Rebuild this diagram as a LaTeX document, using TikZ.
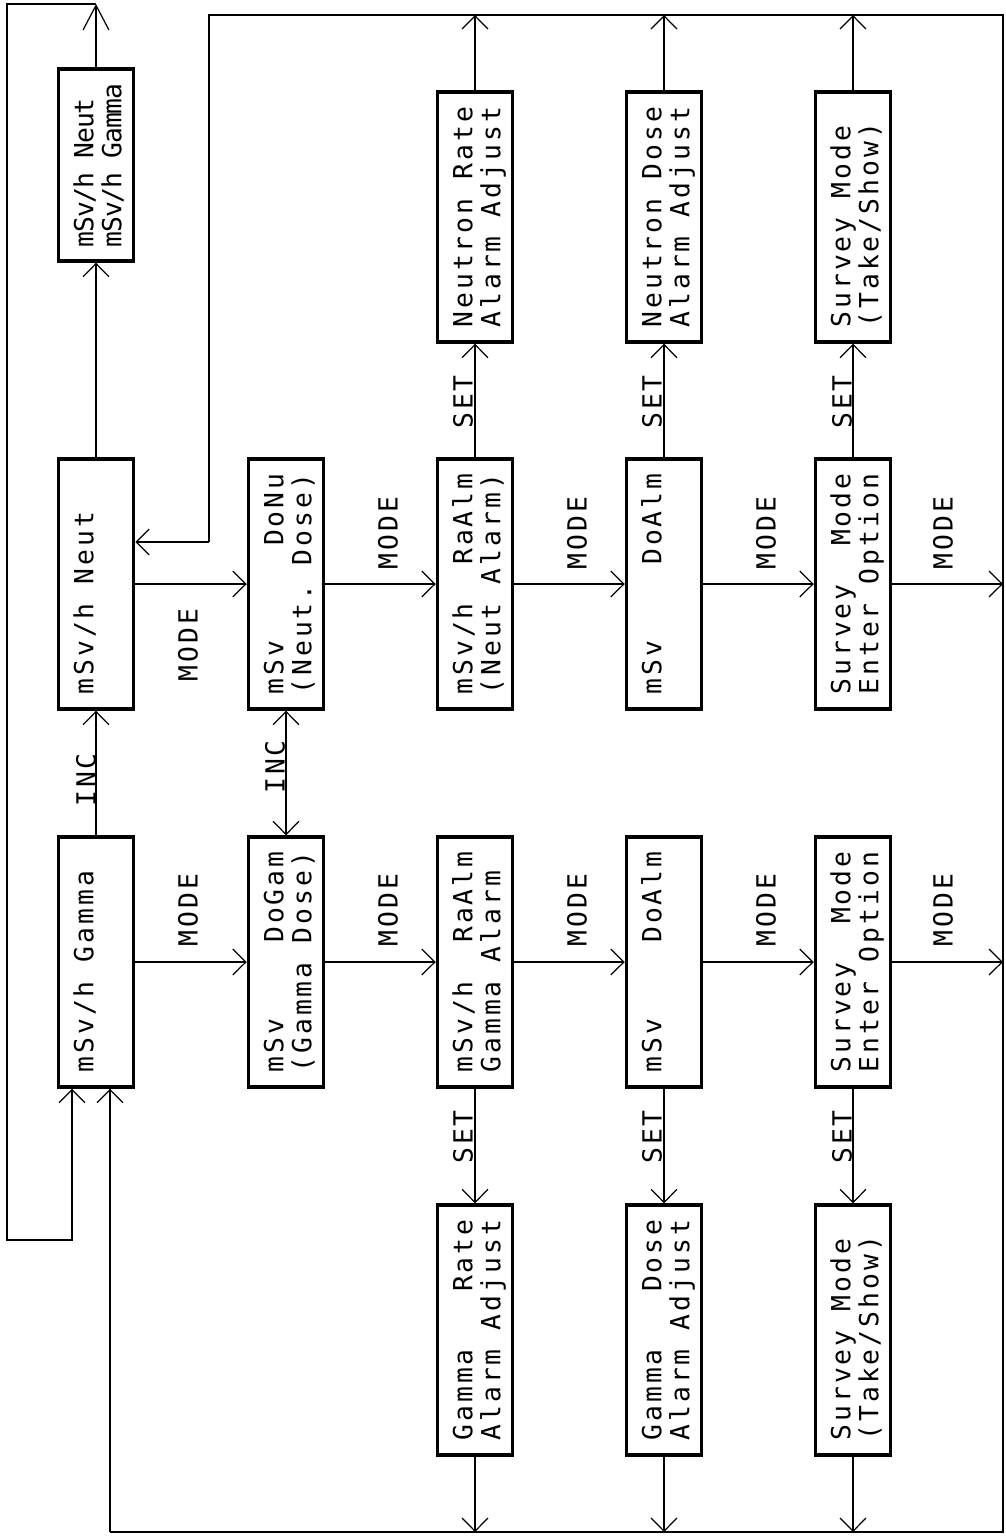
\documentclass[tikz,border=0pt]{standalone}
\usepackage{fontspec}
\usepackage{graphicx}
\usetikzlibrary{arrows.meta,calc}
\newfontfamily\pf{DejaVu Sans Mono}[LetterSpace=11.6]
\newfontfamily\pfn{DejaVu Sans Mono}[LetterSpace=-4.7]
\newcommand{\bt}[2]{\rotatebox{90}{\parbox{126pt}{\raggedright\rule{0pt}{17pt}#1\\#2\rule[-4pt]{0pt}{4pt}}}}
\newcommand{\btn}[2]{\rotatebox{90}{\parbox{93.5pt}{\raggedright\rule{0pt}{17pt}#1\\#2\rule[-4pt]{0pt}{4pt}}}}
\begin{document}
\begin{tikzpicture}[x=0.02cm,y=-0.02cm,
  box/.style={draw, line width=2pt, minimum width=1.5cm, minimum height=5cm, inner sep=0pt,
    font=\pf\fontsize{15pt}{15.9pt}\selectfont},
  topbox/.style={box, minimum height=3.84cm, font=\pfn\fontsize{15pt}{15.9pt}\selectfont},
  lbl/.style={rotate=90, inner sep=0pt, font=\pf\fontsize{15pt}{15.9pt}\selectfont},
  conn/.style={line width=0.7pt},
  bigtip/.style={-{Straight Barb[length=14pt,width=14.7pt,line width=0.7pt]}},
  >={Straight Barb[length=7.4pt,width=14.7pt,line width=0.7pt]}]
\fill[white] (0,0) rectangle (1005,1537);
\useasboundingbox (0,0) rectangle (1005,1537);

% boxes
\node[topbox] (T) at (96,165) {\btn{mSv/h Neut}{mSv/h Gamma}};
\node[box] (n1) at (96,584) {\bt{mSv/h Neut}{}};
\node[box] (g1) at (96,962) {\bt{mSv/h Gamma}{}};
\node[box] (n2) at (286,584) {\bt{mSv\hfill DoNu}{(Neut.\ Dose)}};
\node[box] (g2) at (286,962) {\bt{mSv\hfill DoGam}{(Gamma Dose)}};
\node[box] (n3) at (475,584) {\bt{mSv/h\hfill RaAlm}{(Neut Alarm)}};
\node[box] (g3) at (475,962) {\bt{mSv/h\hfill RaAlm}{Gamma Alarm}};
\node[box] (n4) at (664,584) {\bt{mSv\hfill DoAlm}{}};
\node[box] (g4) at (664,962) {\bt{mSv\hfill DoAlm}{}};
\node[box] (n5) at (853,584) {\bt{Survey\hfill Mode}{Enter Option}};
\node[box] (g5) at (853,962) {\bt{Survey\hfill Mode}{Enter Option}};
\node[box] (a3) at (475,217) {\bt{Neutron Rate}{Alarm Adjust}};
\node[box] (a4) at (664,217) {\bt{Neutron Dose}{Alarm Adjust}};
\node[box] (a5) at (853,217) {\bt{Survey Mode}{(Take/Show)}};
\node[box] (b3) at (475,1330) {\bt{Gamma\hfill Rate}{Alarm Adjust}};
\node[box] (b4) at (664,1330) {\bt{Gamma\hfill Dose}{Alarm Adjust}};
\node[box] (b5) at (853,1330) {\bt{Survey Mode}{(Take/Show)}};

% frame coordinates
\coordinate (c1) at (96,4);
\coordinate (c2) at (7,4);
\coordinate (c3) at (7,1240);
\coordinate (c4) at (72,1240);
\coordinate (f1) at (209,15);
\coordinate (f2) at (1003,15);
\coordinate (f3) at (1003,1532);
\coordinate (f4) at (110,1532);
\coordinate (f5) at (209,542);

% top-left loop
\draw[conn,bigtip] (T.north) -- (c1);
\draw[conn,->] (c1) -- (c2) -- (c3) -- (c4) -- (c4 |- g1.south);
\draw[conn,->] (n1.north) -- (T.south);

% outer frame
\draw[conn] (f5) -- (f1) -- (f2) -- (f3) -- (f4);
\draw[conn,->] (f4) -- (f4 |- g1.south);
\draw[conn,->] (f5) -- (f5 -| n1.east);

% INC
\draw[conn,->] (g1.north) -- (n1.south);
\node[lbl] (inc1) at (86,780) {INC};
\draw[conn,<->] (n2.south) -- (g2.north);
\node[lbl] (inc2) at (275,767) {INC};

% MODE row 1
\draw[conn,->] (n1.east) -- (n2.west);
\draw[conn,->] (n2.east) -- (n3.west);
\draw[conn,->] (n3.east) -- (n4.west);
\draw[conn,->] (n4.east) -- (n5.west);
\draw[conn,->] (n5.east) -- (n5.east -| f2);
\node[lbl] (m11) at (188,645) {MODE};
\node[lbl] (m12) at (388,533) {MODE};
\node[lbl] (m13) at (577,533) {MODE};
\node[lbl] (m14) at (766,533) {MODE};
\node[lbl] (m15) at (943,533) {MODE};

% MODE row 2
\draw[conn,->] (g1.east) -- (g2.west);
\draw[conn,->] (g2.east) -- (g3.west);
\draw[conn,->] (g3.east) -- (g4.west);
\draw[conn,->] (g4.east) -- (g5.west);
\draw[conn,->] (g5.east) -- (g5.east -| f2);
\node[lbl] (m21) at (188,910) {MODE};
\node[lbl] (m22) at (388,910) {MODE};
\node[lbl] (m23) at (577,910) {MODE};
\node[lbl] (m24) at (766,910) {MODE};
\node[lbl] (m25) at (943,910) {MODE};

% SET up
\draw[conn,->] (n3.north) -- (a3.south);
\draw[conn,->] (n4.north) -- (a4.south);
\draw[conn,->] (n5.north) -- (a5.south);
\node[lbl] (s1) at (463,402) {SET};
\node[lbl] (s2) at (652,402) {SET};
\node[lbl] (s3) at (842,402) {SET};

% SET down
\draw[conn,->] (g3.south) -- (b3.north);
\draw[conn,->] (g4.south) -- (b4.north);
\draw[conn,->] (g5.south) -- (b5.north);
\node[lbl] (s4) at (463,1137) {SET};
\node[lbl] (s5) at (652,1137) {SET};
\node[lbl] (s6) at (842,1137) {SET};

% adjust boxes to frame
\draw[conn,->] (a3.north) -- (a3.north |- f1);
\draw[conn,->] (a4.north) -- (a4.north |- f1);
\draw[conn,->] (a5.north) -- (a5.north |- f1);
\draw[conn,->] (b3.south) -- (b3.south |- f4);
\draw[conn,->] (b4.south) -- (b4.south |- f4);
\draw[conn,->] (b5.south) -- (b5.south |- f4);
\end{tikzpicture}
\end{document}
